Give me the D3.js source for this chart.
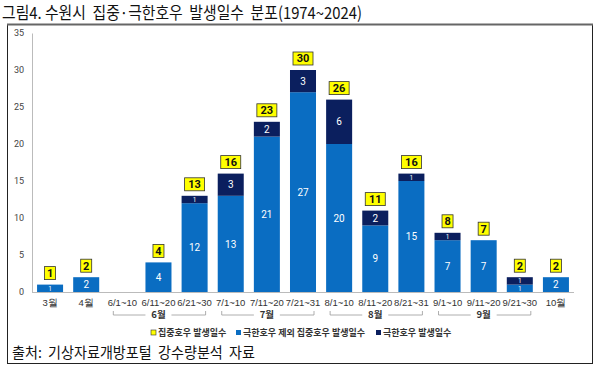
<!DOCTYPE html>
<html>
<head>
<meta charset="utf-8">
<script src="https://cdn.jsdelivr.net/npm/d3@7"></script>
<style>
  body { margin: 0; background: #fff; }
  svg { display: block; font-family: "Noto Sans CJK KR", "Noto Sans", sans-serif; }
</style>
</head>
<body>
<svg id="chart" width="600" height="375"></svg>
<script>
const categories = ['3월', '4월', '6/1~10', '6/11~20', '6/21~30', '7/1~10', '7/11~20', '7/21~31',
    '8/1~10', '8/11~20', '8/21~31', '9/1~10', '9/11~20', '9/21~30', '10월'];
const heavyOnly = [1, 2, 0, 4, 12, 13, 21, 27, 20, 9, 15, 7, 7, 1, 2];
const extreme = [0, 0, 0, 0, 1, 3, 2, 3, 6, 2, 1, 1, 0, 1, 0];
const totals = [1, 2, 0, 4, 13, 16, 23, 30, 26, 11, 16, 8, 7, 2, 2];
const yTicks = [0, 5, 10, 15, 20, 25, 30, 35];
const groups = [
    {name: '6월', from: '6/1~10', to: '6/21~30'},
    {name: '7월', from: '7/1~10', to: '7/21~31'},
    {name: '8월', from: '8/1~10', to: '8/21~31'},
    {name: '9월', from: '9/1~10', to: '9/21~30'}
];
const legendItems = ['집중호우 발생일수', '극한호우 제외 집중호우 발생일수', '극한호우 발생일수'];

const blue = '#0a6dc2', navy = '#0b1f5e', yellow = '#ffff00';

const svg = d3.select('#chart');

// title
svg.append('text')
    .attr('x', 2).attr('y', 19)
    .attr('font-size', 16.5).attr('fill', '#111')
    .style('white-space', 'pre')
    .attr('textLength', 360).attr('lengthAdjust', 'spacingAndGlyphs')
    .text('그림4. 수원시  집중·극한호우  발생일수  분포(1974~2024)');

// frame
svg.append('rect')
    .attr('x', 7.5).attr('y', 24.5).attr('width', 585).attr('height', 339)
    .attr('fill', 'none').attr('stroke', '#222').attr('stroke-width', 1);
svg.append('line')
    .attr('x1', 7).attr('x2', 593).attr('y1', 24.5).attr('y2', 24.5)
    .attr('stroke', '#666').attr('stroke-width', 2);

let x = d3.scaleBand()
    .domain(categories)
    .range([32, 574])
    .paddingInner(0.28)
    .paddingOuter(0.14);
let y = d3.scaleLinear().domain([0, 35]).range([292, 33]);

// y axis
let yAxis = d3.axisLeft(y).tickValues(yTicks).tickSize(0).tickPadding(8);
let gy = svg.append('g').attr('transform', 'translate(32,0)').call(yAxis);
gy.select('.domain').attr('stroke', '#bbb');
gy.selectAll('text').attr('font-size', 9).attr('fill', '#444').attr('font-family', 'Roboto, sans-serif');

// x axis
let xAxis = d3.axisBottom(x).tickSize(0).tickPadding(7);
let gx = svg.append('g').attr('transform', 'translate(0,292)').call(xAxis);
gx.select('.domain').attr('stroke', '#bbb').attr('d', 'M32,0.5H574');
gx.selectAll('text').attr('font-size', 9.5).attr('fill', '#333');

function segLabel(cx, y0, y1, v) {
    let h = y0 - y1;
    svg.append('text')
        .attr('x', cx).attr('y', (y0 + y1) / 2)
        .attr('dy', '0.36em').attr('text-anchor', 'middle')
        .attr('font-size', h < 10 ? 6.5 : 10).attr('font-family', 'Roboto, sans-serif')
        .attr('fill', '#fff').text(v);
}

// bars
const bw = x.bandwidth();
categories.forEach(function (c, i) {
    let base = heavyOnly[i];
    let cx = x(c) + bw / 2;
    if (heavyOnly[i] > 0) {
        svg.append('rect')
            .attr('x', x(c)).attr('y', y(base)).attr('width', bw)
            .attr('height', y(0) - y(base)).attr('fill', blue);
        segLabel(cx, y(0), y(base), heavyOnly[i]);
    }
    if (extreme[i] > 0) {
        let top = base + extreme[i];
        svg.append('rect')
            .attr('x', x(c)).attr('y', y(top)).attr('width', bw)
            .attr('height', y(base) - y(top)).attr('fill', navy);
        segLabel(cx, y(base), y(top), extreme[i]);
    }
    if (totals[i] > 0) {
        let label = String(totals[i]);
        let w = label.length > 1 ? 20 : 11;
        let by = y(totals[i]) - 5;
        svg.append('rect')
            .attr('x', cx - w / 2).attr('y', by - 13).attr('width', w).attr('height', 13)
            .attr('fill', yellow).attr('stroke', '#333').attr('stroke-width', 0.8);
        svg.append('text')
            .attr('x', cx).attr('y', by - 6.5).attr('dy', '0.36em')
            .attr('text-anchor', 'middle').attr('font-size', 11).attr('font-weight', 'bold')
            .attr('font-family', 'Roboto, sans-serif').attr('fill', '#111').text(label);
    }
});

// month brackets
const by = 315;
groups.forEach(function (g) {
    let x0 = x(g.from) + 4;
    let x1 = x(g.to) + bw - 2;
    let mid = (x0 + x1) / 2;
    svg.append('path')
        .attr('d', 'M' + x0 + ',' + (by - 4) + 'V' + by + 'H' + (mid - 14)
            + 'M' + (mid + 12) + ',' + by + 'H' + x1 + 'V' + (by - 4))
        .attr('fill', 'none').attr('stroke', '#999').attr('stroke-width', 0.8);
    svg.append('text')
        .attr('x', mid - 1).attr('y', by).attr('dy', '0.35em')
        .attr('text-anchor', 'middle').attr('font-size', 9.5).attr('font-weight', 'bold')
        .attr('fill', '#333').text(g.name);
});

// legend
const legendX = [151, 236, 376];
const legendFill = [yellow, blue, navy];
legendItems.forEach(function (t, i) {
    svg.append('rect')
        .attr('x', legendX[i]).attr('y', 330).attr('width', 5).attr('height', 5)
        .attr('fill', legendFill[i]).attr('stroke', i === 0 ? '#333' : 'none').attr('stroke-width', 0.6);
    svg.append('text')
        .attr('x', legendX[i] + 7).attr('y', 333).attr('dy', '0.35em')
        .attr('font-size', 9).attr('font-weight', 'bold').attr('fill', '#333').text(t);
});

// source
svg.append('text')
    .attr('x', 12).attr('y', 358)
    .attr('font-size', 15).attr('fill', '#111')
    .style('white-space', 'pre')
    .attr('textLength', 243).attr('lengthAdjust', 'spacingAndGlyphs')
    .text('출처:  기상자료개방포털  강수량분석  자료');
</script>
</body>
</html>
